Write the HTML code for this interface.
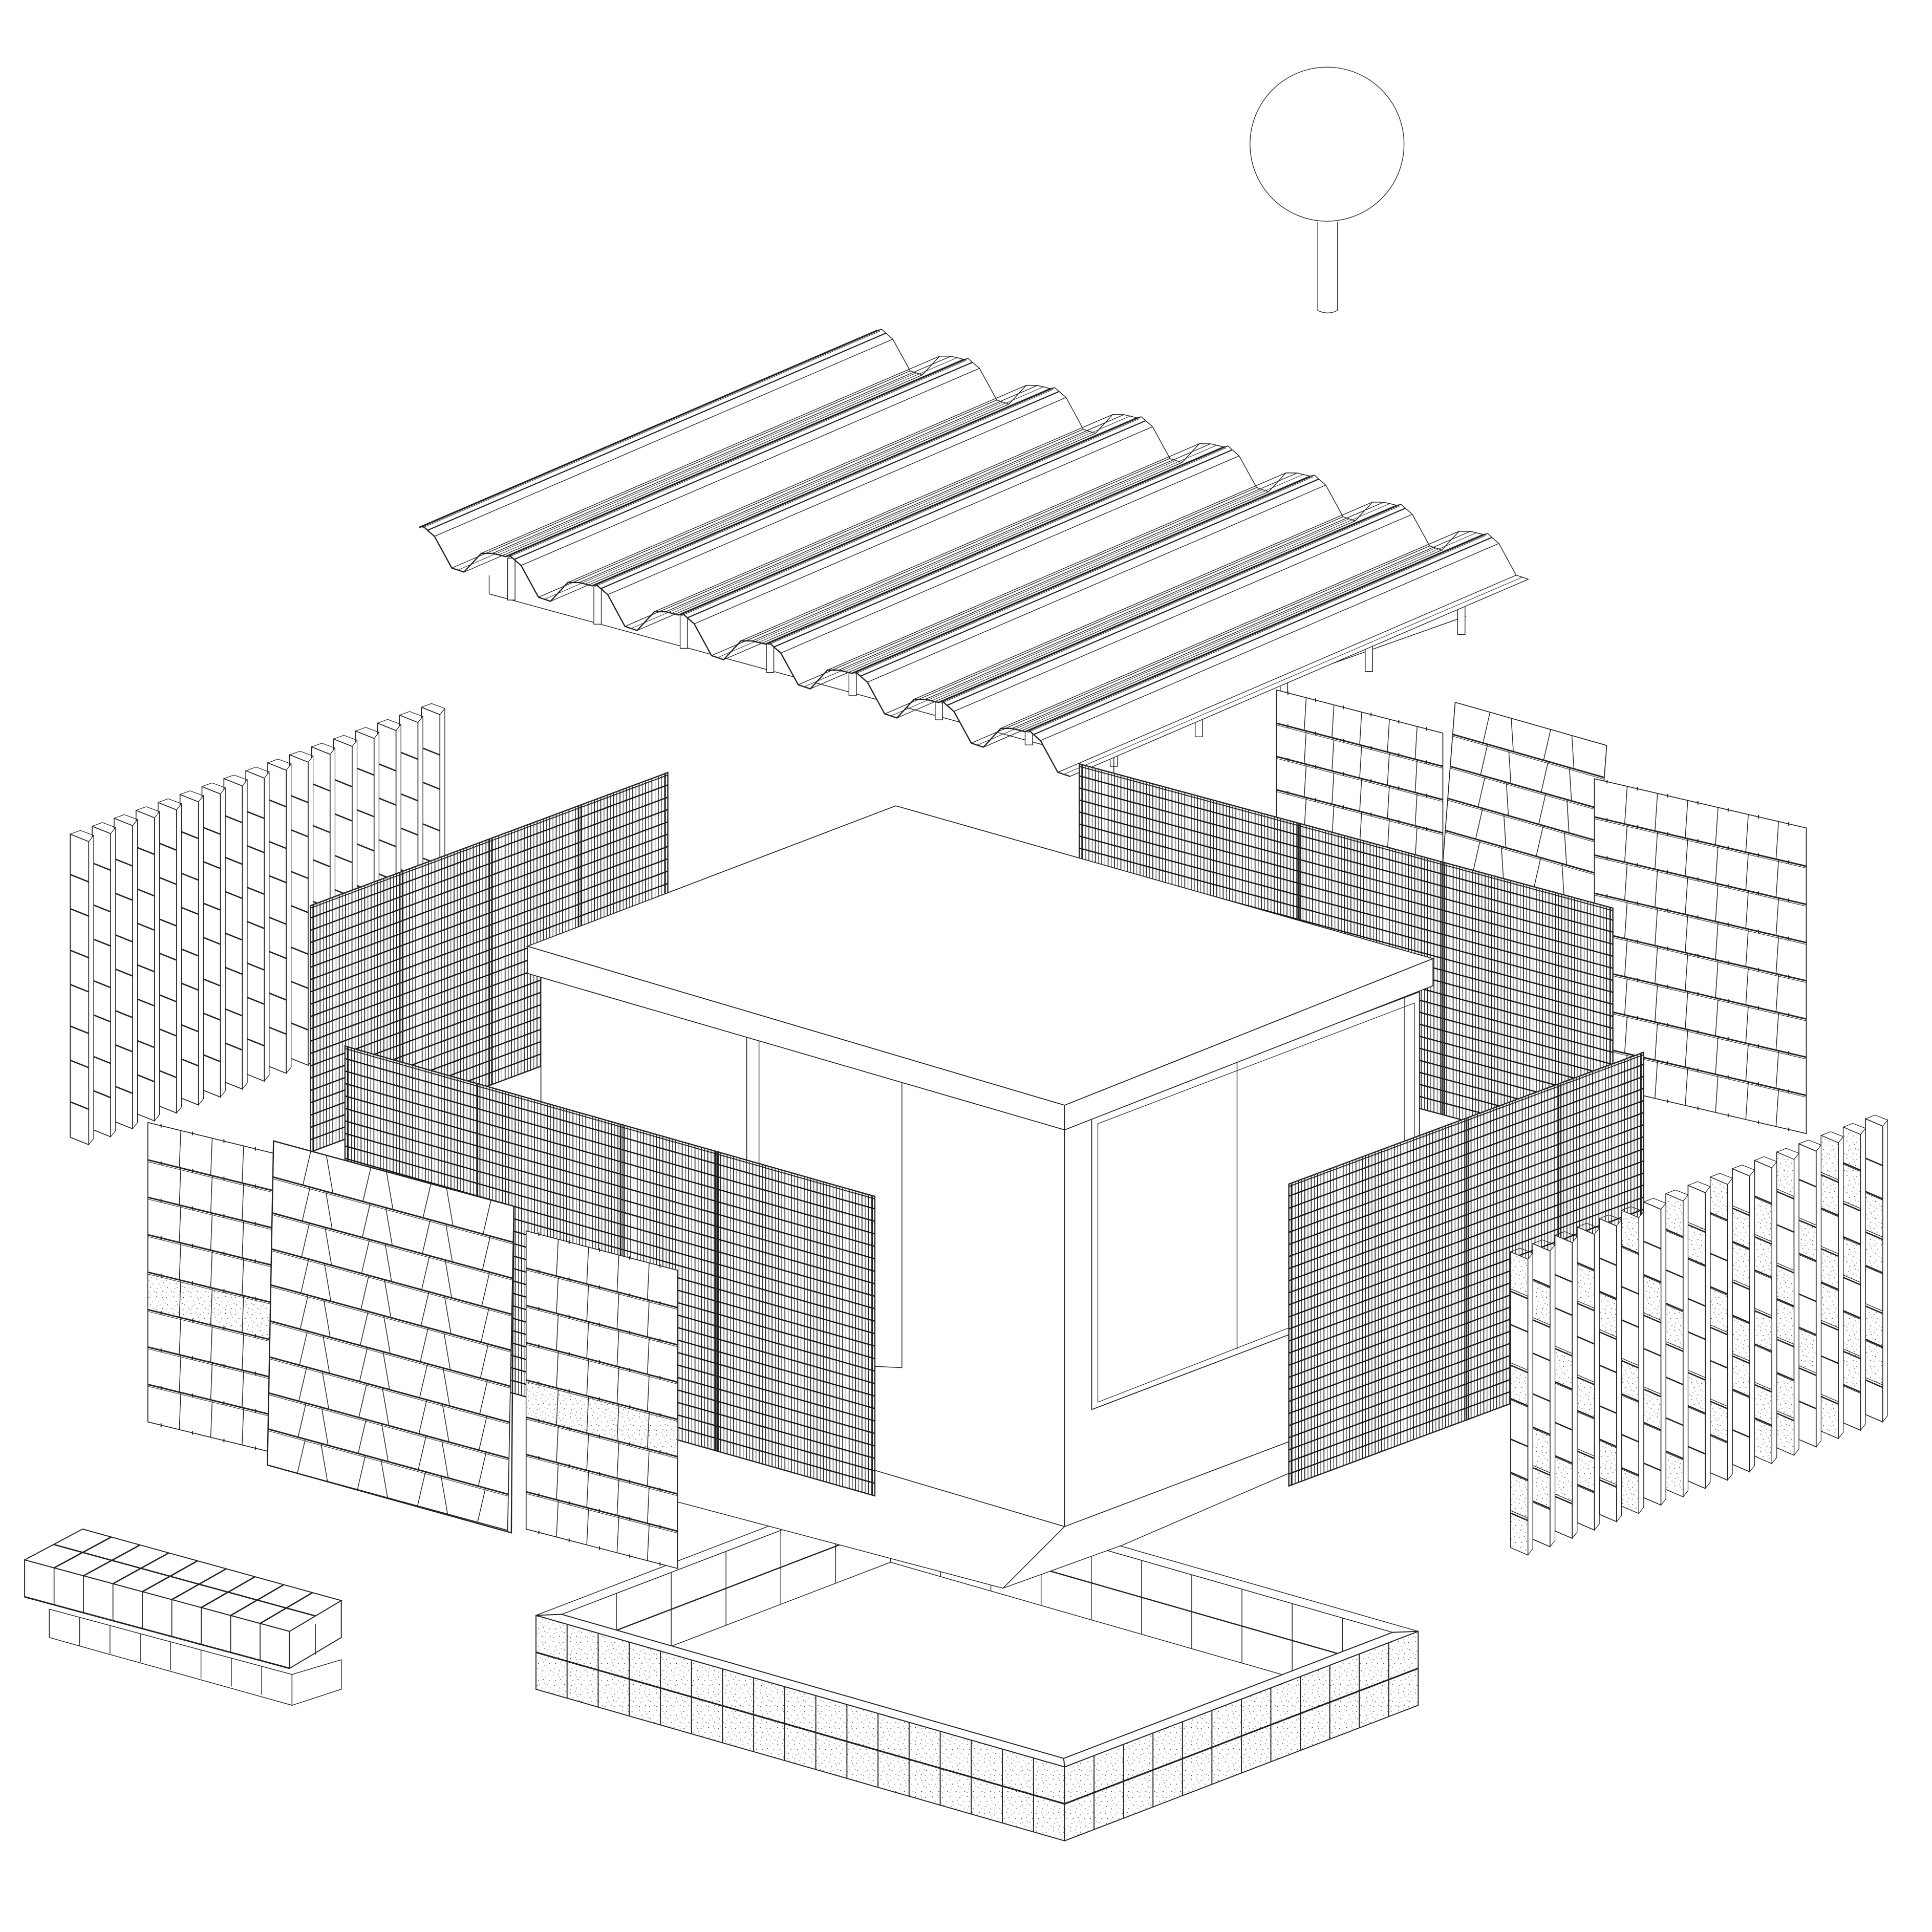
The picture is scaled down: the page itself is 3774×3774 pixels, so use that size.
<!DOCTYPE html>
<html><head><meta charset="utf-8">
<style>html,body{margin:0;padding:0;background:#fff}svg{display:block}</style>
</head><body>
<svg id="s" xmlns="http://www.w3.org/2000/svg" width="3774" height="3774" viewBox="0 0 1568 1568">
<defs>
<pattern id="dots" width="14" height="14" patternUnits="userSpaceOnUse">
<rect width="14" height="14" fill="#fff"/>
<g fill="#222">
<circle cx="1" cy="2" r="0.35"/><circle cx="5" cy="1" r="0.3"/><circle cx="9" cy="3" r="0.35"/><circle cx="12" cy="6" r="0.3"/>
<circle cx="3" cy="6" r="0.35"/><circle cx="7" cy="5" r="0.3"/><circle cx="10" cy="9" r="0.35"/><circle cx="2" cy="10" r="0.3"/>
<circle cx="6" cy="12" r="0.35"/><circle cx="13" cy="12" r="0.3"/><circle cx="8" cy="8" r="0.3"/><circle cx="4" cy="9" r="0.25"/>
<circle cx="11" cy="1" r="0.25"/><circle cx="1" cy="13" r="0.3"/><circle cx="9" cy="13" r="0.25"/><circle cx="6" cy="3" r="0.25"/>
</g>
</pattern>
</defs>
<rect width="1568" height="1568" fill="#fff"/>
<circle cx="1077" cy="117" r="62.5" fill="#fff" stroke="#333" stroke-width="0.6"/>
<path d="M1069.5 180 L1069.5 252 Q1077.5 256 1085.5 252 L1085.5 180" fill="#fff" stroke="#333" stroke-width="0.6"/>
</svg>
<script>
const NS='http://www.w3.org/2000/svg',svg=document.getElementById('s');
function el(t,a,p){const e=document.createElementNS(NS,t);for(const k in a)e.setAttribute(k,a[k]);(p||svg).appendChild(e);return e;}
function L(x1,y1,x2,y2,w,c){return el('line',{x1,y1,x2,y2,stroke:c||'#222','stroke-width':w||0.6});}
function P(pts,fill,w){return el('polygon',{points:pts.map(q=>q[0].toFixed(1)+','+q[1].toFixed(1)).join(' '),fill:fill||'#fff',stroke:'#222','stroke-width':w||0.7});}
function PL(pts,w){return el('polyline',{points:pts.map(q=>q[0].toFixed(1)+','+q[1].toFixed(1)).join(' '),fill:'none',stroke:'#222','stroke-width':w||0.6});}
function lerp(a,b,t){return [a[0]+(b[0]-a[0])*t,a[1]+(b[1]-a[1])*t];}

L(397,467,397,482,0.6);L(397,482,874,612,0.6);
L(874,612,1190,500,0.6);
[415,485,555,625,692,762,835].forEach(x=>{const y=482+(x-397)*0.28;P([[x-3,y-34],[x+3,y-34],[x+3,y],[x-3,y]],'#fff',0.6);});
[[904,622],[973,598],[1042,570],[1111,545],[1186,515]].forEach(q=>{P([[q[0]-3,q[1]-28],[q[0]+3,q[1]-28],[q[0]+3,q[1]],[q[0]-3,q[1]]],'#fff',0.6);});
L(904,640,904,598,0.6);

(function(){
 const A=[340,428],D=[874,608],R=[372,-160];
 const N=7.6,d=24;
 const prof=[[0,0],[0.05,-2],[0.1,0],[0.18,3],[0.38,d],[0.52,d],[0.72,4],[0.85,1],[1,0]];
 let pts=[];
 for(let k=0;k<8;k++){prof.forEach(p=>{const t=k+p[0];if(t<=N+0.001)pts.push([t,p[1]]);});}
 const V=pts.map(p=>{const b=lerp(A,D,p[0]/N);return [b[0],b[1]+p[1]];});
 const far=V.map(v=>[v[0]+R[0],v[1]+R[1]]);
 P(V.concat(far.slice().reverse()),'#fff',0.4);
 V.forEach((v,i)=>{L(v[0],v[1],v[0]+R[0],v[1]+R[1],(pts[i][1]===0)?0.9:0.55);});
 for(let k=0;k<8;k++){[0.45,0.93,0.03].forEach(f=>{const t=k+f;if(t>N)return;const b=lerp(A,D,t/N);const y=f==0.45?d:0;L(b[0],b[1]+y,b[0]+R[0],b[1]+y+R[1],0.4);});}
 PL(V,1.0);
 PL(far,0.6);
})();

function fins(x0,y0,x1,y1,n,h,w,stip){
 for(let i=n-1;i>=0;i--){
  const x=x0+(x1-x0)*i/(n-1),y=y0+(y1-y0)*i/(n-1);
  P([[x+w,y],[x+w+4,y-5],[x+w+4,y-5+h],[x+w,y+h]],'#fff',0.5);
  P([[x,y-6],[x+w,y],[x+w,y+h],[x,y+h-6]],'#fff',0.7);
  L(x,y-6,x+w*0.55,y-9,0.5);L(x+w*0.55,y-9,x+w+4,y-5,0.5);
  const rows=8;
  for(let r=0;r<rows;r++){
   const v0=r/rows,v1=(r+1)/rows;
   if(stip&&stip(i,r)){P([[x,y-6+h*v0],[x+w,y+h*v0],[x+w,y+h*v1],[x,y-6+h*v1]],'url(#dots)',0.5);}
   if(r>0)L(x,y-6+h*v0+((i+r)%2?2:-1),x+w,y+h*v0+((i+r)%2?2:-1),1.1);
  }
 }
}
fins(57,683,342,580,17,246,15,null);

function tiles(TL,TR,BL,rows,cols,opt){
 opt=opt||{};
 const BR=[TR[0]+BL[0]-TL[0],TR[1]+BL[1]-TL[1]];
 P([TL,TR,BR,BL],'#fff',0.7);
 const p=(u,v)=>[TL[0]+(TR[0]-TL[0])*u+(BL[0]-TL[0])*v,TL[1]+(TR[1]-TL[1])*u+(BL[1]-TL[1])*v];
 for(let r=0;r<rows;r++){
  const v0=r/rows,v1=(r+1)/rows;
  if(opt.stip&&opt.stip.indexOf(r)>=0)P([p(0,v0),p(1,v0),p(1,v1),p(0,v1)],'url(#dots)',0.5);
  for(let c=1;c<cols;c++){
   const sh=opt.chev?((c%2)?0.03:-0.03):0.012;
   const a=p(c/cols+sh,v0),b=p(c/cols,v1);L(a[0],a[1],b[0],b[1],0.6);
  }
  if(r>0){const a=p(0,v0),b=p(1,v0);L(a[0],a[1],b[0],b[1],1.2);L(a[0],a[1]+1.5,b[0],b[1]+1.5,0.4);}
 }
 if(opt.clips){for(let r=0;r<=rows;r++){for(let c=0;c<cols;c++){const q=p((c+0.5)/cols,r/rows);L(q[0]-2,q[1]-2,q[0]-2,q[1]+1,0.8);}}}
}
tiles([1036,560],[1171,595],[1036,668],4,6,{clips:true});
tiles([1181,570],[1304,605],[1171,700],5,5,{chev:true});
tiles([1294,632],[1466,672],[1294,880],8,7,{clips:true});

function mesh(TL,TR,h,divs){
 const BL=[TL[0],TL[1]+h],BR=[TR[0],TR[1]+h];
 P([TL,TR,BR,BL],'#fff',1.0);
 const n=Math.round(Math.abs(TR[0]-TL[0])/2.6);
 for(let i=1;i<n;i++){const t=i/n;const a=lerp(TL,TR,t);L(a[0],a[1],a[0],a[1]+h,(i%2)?0.7:0.45,'#222');}
 const m=Math.round(h/10);
 for(let j=1;j<m;j++){const y=h*j/m;L(TL[0],TL[1]+y,TR[0],TR[1]+y,1.0,'#111');}
 (divs||[]).forEach(t=>{const a=lerp(TL,TR,t);L(a[0],a[1],a[0],a[1]+h,1.2);L(a[0]+2,a[1],a[0]+2,a[1]+h,0.8);});
 L(TL[0],TL[1]+2,TR[0],TR[1]+2,0.8);L(TR[0]-2,TR[1],TR[0]-2,TR[1]+h,0.8);L(TL[0]+2,TL[1],TL[0]+2,TL[1]+h,0.8);
}
mesh([252,735],[542,627],200,[0.25,0.5,0.75]);
mesh([876,620],[1309,737],205,[0.41,0.68]);

(function(){
 const Lc=[435,1311],F=[864,1434],R=[1151,1324],Bk=[722,1201],H=60;
 const vR=[(R[0]-F[0])*0.035,(R[1]-F[1])*0.035],vL=[(Lc[0]-F[0])*0.025,(Lc[1]-F[1])*0.025];
 const Li=[Lc[0]+vR[0]-vL[0],Lc[1]+vR[1]-vL[1]],Ri=[R[0]+vL[0]-vR[0],R[1]+vL[1]-vR[1]];
 const Fi=[F[0]+vR[0]+vL[0],F[1]+vR[1]+vL[1]],Bki=[Bk[0]-vR[0]-vL[0],Bk[1]-vR[1]-vL[1]];
 const dn=q=>[q[0],q[1]+H];
 function inner(a,b,n){P([a,b,dn(b),dn(a)],'#fff',0.6);for(let i=1;i<n;i++){const q=lerp(a,b,i/n);L(q[0],q[1],q[0],q[1]+H,0.6);}L(a[0],a[1]+H/2,b[0],b[1]+H/2,1.0);}
 inner(Li,Bki,6);inner(Ri,Bki,10);
 P([Lc,Bk,Bki,Li],'#fff',0.6);P([R,Bk,Bki,Ri],'#fff',0.6);
 function outer(a,b,n){P([a,b,dn(b),dn(a)],'url(#dots)',0.8);for(let i=1;i<n;i++){const q=lerp(a,b,i/n);L(q[0],q[1],q[0],q[1]+H,0.8);}L(a[0],a[1]+H/2,b[0],b[1]+H/2,1.3);}
 outer(Lc,F,17);outer(F,R,12);
 P([Lc,F,Fi,Li],'#fff',0.8);P([F,R,Ri,Fi],'#fff',0.8);
})();

P([[439,792],[864,914],[864,1239],[439,1113]],'#fff',0.7);
P([[864,914],[1152,806],[1152,1130],[864,1239]],'#fff',0.7);
P([[439,1113],[864,1239],[814,1289],[550,1219]],'#fff',0.6);
P([[864,1239],[1152,1130],[1152,1150],[911,1254],[814,1289]],'#fff',0.6);
L(606,841,606,1104);L(616,845,616,1107);L(732,877,732,1110);
L(606,1104,732,1110);
P([[886,906],[1152,805],[1152,1043],[886,1144]],'#fff',0.7);
P([[891,912],[1148,814],[1148,1038],[891,1138]],'#fff',0.5);
L(1004,860,1004,1095,0.6);L(1140,808,1140,1043,0.5);
P([[428,768],[727,654],[1163,778],[864,897]],'#fff',0.7);
P([[428,768],[864,897],[864,917],[428,790]],'#fff',0.7);
P([[864,897],[1163,778],[1163,800],[864,917]],'#fff',0.7);

mesh([280,849],[710,971],243,[0.25,0.52,0.7]);

tiles([120,911],[222,936],[120,1154],8,4,{clips:true,stip:[4]});
tiles([222,926],[417,979],[217,1189],9,8,{chev:true});
P([[222,926],[417,979],[415,1244],[217,1189]],'none',1.0);
tiles([427,999],[550,1031],[427,1241],8,5,{clips:true,stip:[4]});

mesh([1046,961],[1334,854],245,[0.5,0.76]);

fins(1226,1022,1514,914,17,240,14,(i,r)=>((i*3+r*5)%7<2)||(r==6&&i<4)||(i>8&&(r+i)%3==0));

(function(){
 const a=[20,1266],b=[67,1241],c=[277,1299],d=[235,1324];
 P([[40,1306],[237,1359],[237,1384],[40,1329]],'#fff',0.6);
 P([[237,1359],[277,1347],[277,1371],[237,1384]],'#fff',0.6);
 for(let i=1;i<8;i++){const x=40+197*i/8,y=1306+53*i/8;L(x,y,x,y+23,0.6);}
 P([a,d,[235,1354],[20,1296]],'#fff',0.8);
 P([d,c,[277,1329],[235,1354]],'#fff',0.8);
 for(let i=1;i<9;i++){const x=20+215*i/9,y=1266+58*i/9;L(x,y,x,y+30,0.7);}
 L(256,1318,256,1343,0.6);
 P([a,b,c,d],'#fff',0.8);
 for(let i=1;i<9;i++){const p1=lerp(a,d,i/9),p2=lerp(b,c,i/9);L(p1[0],p1[1],p2[0],p2[1],1.1);}
 const m1=lerp(a,b,0.5),m2=lerp(d,c,0.5);L(m1[0],m1[1],m2[0],m2[1],1.1);
 L(20,1296,235,1354,1.2);
})();
</script>
</body></html>
